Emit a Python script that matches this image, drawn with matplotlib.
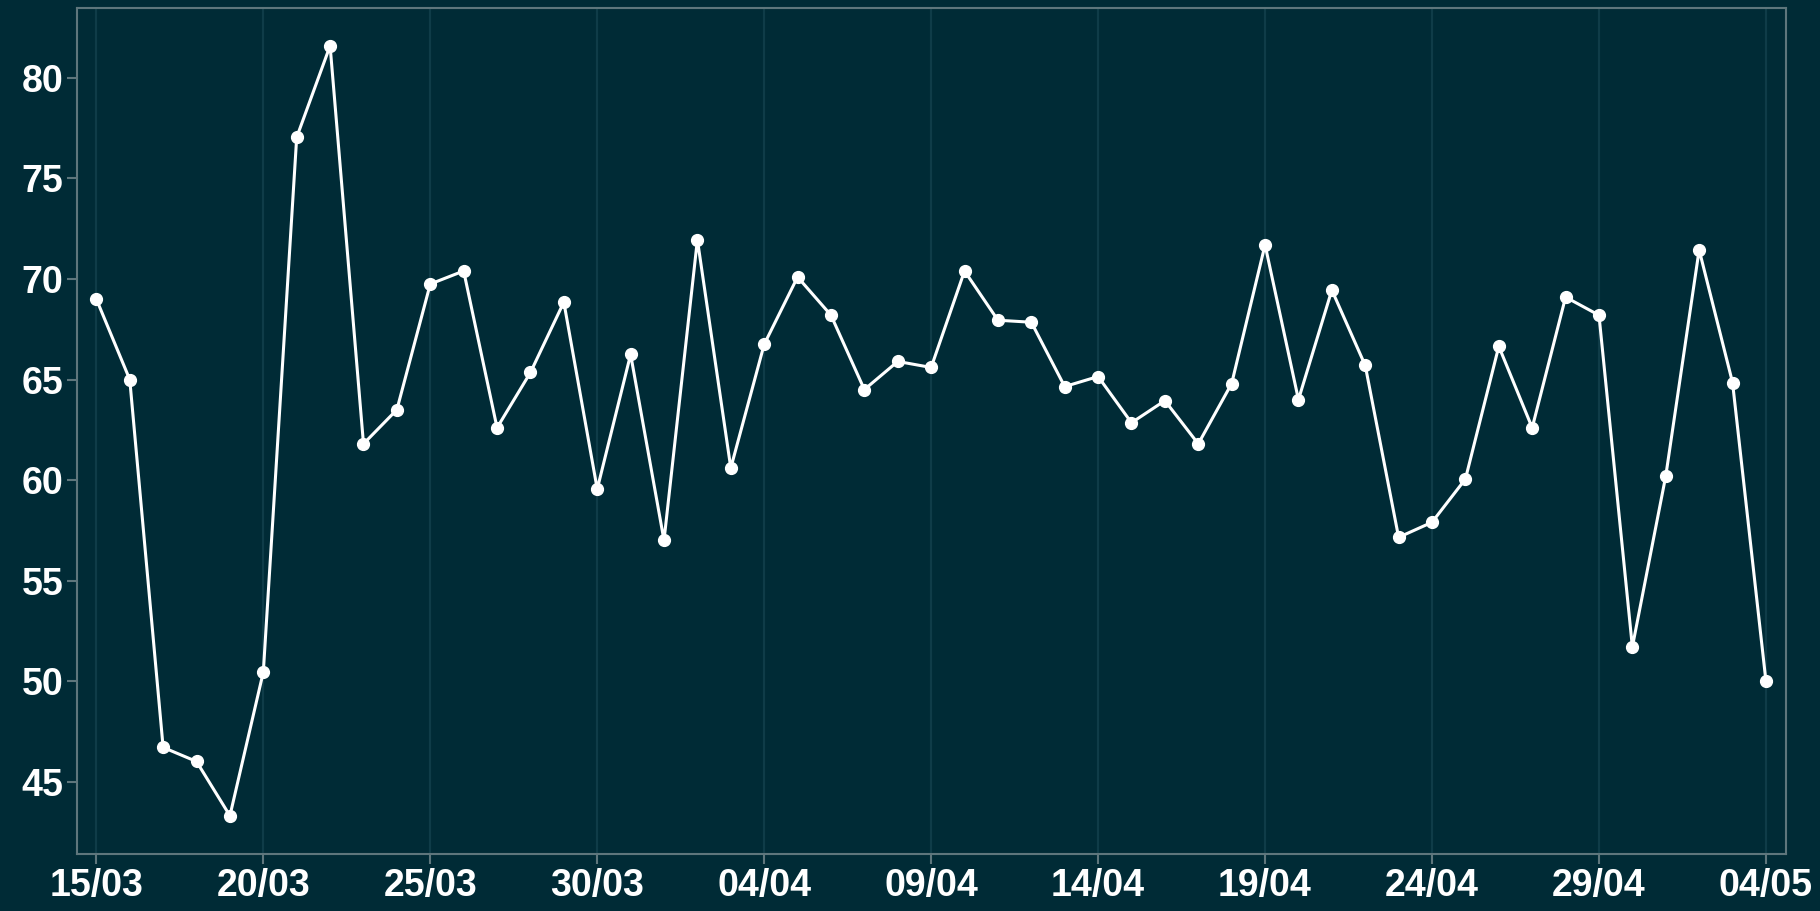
import matplotlib.pyplot as plt
import matplotlib.dates as mdates
import numpy as np
import datetime as dt

start = dt.date(2020, 3, 15)
values = [69.0, 65.0, 46.7, 46.0, 43.3, 50.45, 77.05, 81.6, 61.8, 63.5,
          69.75, 70.4, 62.6, 65.35, 68.85, 59.55, 66.25, 57.0, 71.95, 60.6,
          66.75, 70.1, 68.2, 64.5, 65.9, 65.6, 70.4, 67.95, 67.85, 64.65,
          65.15, 62.85, 63.95, 61.8, 64.8, 71.7, 64.0, 69.45, 65.7, 57.15,
          57.9, 60.05, 66.65, 62.6, 69.1, 68.2, 51.7, 60.2, 71.45, 64.85, 50.0]
dates = [start + dt.timedelta(days=i) for i in range(len(values))]

bg = "#002b36"
fig = plt.figure(figsize=(18.2, 9.11), dpi=100, facecolor=bg)
ax = fig.add_axes([0.0423, 0.0626, 0.939, 0.9286])
ax.set_facecolor(bg)

ax.plot(dates, values, color="white", lw=2.2, marker="o", ms=8.5, zorder=3)

ax.set_xticks(dates[::5])
ax.xaxis.set_major_formatter(mdates.DateFormatter("%d/%m"))
ax.set_xlim(mdates.date2num(dates[0]) - 0.58, mdates.date2num(dates[-1]) + 0.6)
ax.set_ylim(41.4, 83.48)
ax.set_yticks(np.arange(45, 81, 5))

ax.grid(axis="x", color="#0f3c48", lw=1.6)
ax.grid(axis="y", visible=False)
for s in ax.spines.values():
    s.set_color("#5e767c")
    s.set_linewidth(1.5)
ax.tick_params(colors="#5e767c", width=1.5, length=7, pad=3)
for lab in ax.get_xticklabels() + ax.get_yticklabels():
    lab.set_color("white")
    lab.set_fontweight("bold")
    lab.set_fontsize(27)
    lab.set_family("Liberation Sans")

fig.savefig("out.png", facecolor=bg)
